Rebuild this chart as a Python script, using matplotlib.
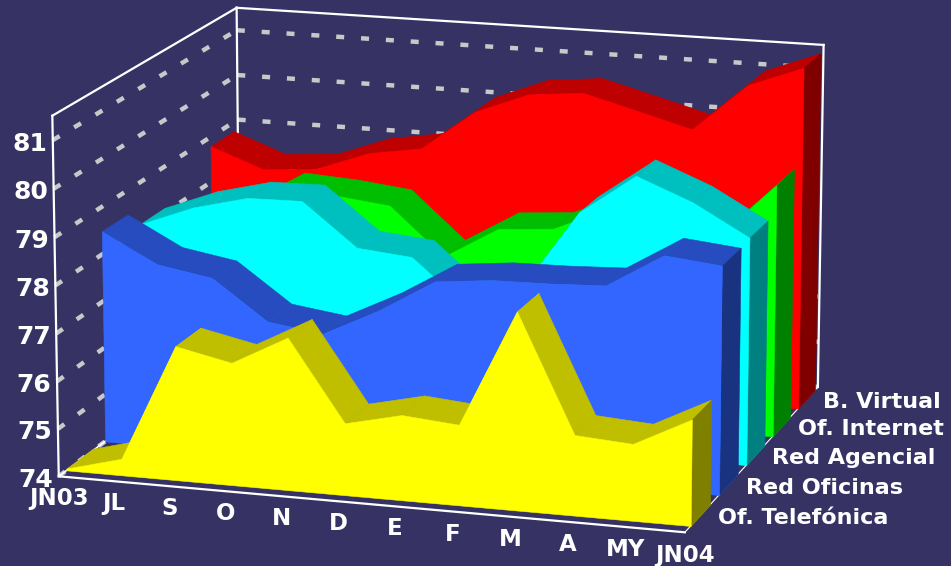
import matplotlib
matplotlib.use('Agg')
import matplotlib.pyplot as plt
from mpl_toolkits.mplot3d.art3d import Poly3DCollection

months = ['JN03', 'JL', 'S', 'O', 'N', 'D', 'E', 'F', 'M', 'A', 'MY', 'JN04']
series_names = ['Of. Telefónica', 'Red Oficinas', 'Red Agencial', 'Of. Internet', 'B. Virtual']
z_ticks = [74, 75, 76, 77, 78, 79, 80, 81]

telefonica = [74.04, 74.35, 76.81, 76.56, 77.18, 75.50, 75.77, 75.67, 78.09, 75.66, 75.58, 76.18]
oficinas = [78.49, 77.88, 77.68, 76.85, 76.69, 77.27, 77.97, 78.09, 78.11, 78.16, 78.87, 78.75]
agencial = [78.11, 78.56, 78.85, 78.87, 77.96, 77.85, 76.87, 77.40, 79.06, 79.91, 79.44, 78.79]
internet = [77.22, 77.86, 78.54, 78.47, 78.34, 77.32, 78.01, 78.10, 78.61, 78.77, 78.22, 79.37]
virtual = [78.80, 78.37, 78.46, 78.89, 79.08, 79.96, 80.42, 80.53, 80.22, 79.90, 80.93, 81.38]
all_series = [telefonica, oficinas, agencial, internet, virtual]

front_colors = ['#FFFF00', '#3366FF', '#00FFFF', '#00FF00', '#FF0000']
top_colors = ['#BFBF00', '#264CBF', '#00BFBF', '#00BF00', '#BF0000']
side_colors = ['#808000', '#1A3380', '#008080', '#008000', '#800000']

BG = '#363364'
Z_MIN, Z_MAX = 74, 81.5
W, H = 951, 566
S = 880.3  # size of the square 3d axes in pixels, fitted to the box corners

fig = plt.figure(figsize=(W / 100, H / 100), dpi=100, facecolor=BG)
ax = fig.add_axes([-3.11 / W, -142.28 / H, S / W, S / H], projection='3d')
ax.computed_zorder = False
ax.set_xlim(0, 11)
ax.set_ylim(0, 5)
ax.set_zlim(Z_MIN, Z_MAX)
ax.view_init(14.2066, -72.8281)
ax.set_proj_type('persp', focal_length=1.1785)
ax.set_box_aspect((1, 0.8482, 0.5711))
ax.set_axis_off()
ax.patch.set_visible(False)


def add_face(verts, color, zorder):
    poly = Poly3DCollection([verts], facecolors=color, edgecolors=color, linewidths=0.4)
    poly.set_zorder(zorder)
    ax.add_collection3d(poly, autolim=False)


# walls: dashed grid
for z in z_ticks:
    for xs, ys in [([0, 0], [0, 5]), ([0, 11], [5, 5])]:
        ax.plot(xs, ys, [z, z], color='#c8c8c8', lw=3.2, ls=(0, (1.8, 3.8)),
                dash_capstyle='butt', zorder=1)

# box frame
frame = [
    ([0, 0], [0, 0], [Z_MIN, Z_MAX], 1.6),
    ([0, 0], [0, 5], [Z_MAX, Z_MAX], 1.6),
    ([0, 11], [5, 5], [Z_MAX, Z_MAX], 1.6),
    ([0, 0], [5, 5], [Z_MIN, Z_MAX], 1.6),
    ([11, 11], [5, 5], [Z_MIN, Z_MAX], 1.6),
    ([0, 11], [0, 0], [Z_MIN, Z_MIN], 1.6),
    ([11, 11], [0, 5], [Z_MIN, Z_MIN], 0.8),
    ([0, 0], [0, 5], [Z_MIN, Z_MIN], 1.2),
]
for xs, ys, zs, lw in frame:
    ax.plot(xs, ys, zs, color='white', lw=lw, zorder=2)

# slabs, back to front
for s in range(4, -1, -1):
    vals = all_series[s]
    y0 = s + 0.2
    y1 = s + 0.88
    base = 10 + (4 - s) * 10
    for i in range(11):
        add_face([(i, y0, vals[i]), (i + 1, y0, vals[i + 1]),
                  (i + 1, y1, vals[i + 1]), (i, y1, vals[i])], top_colors[s], base + 1)
    add_face([(11, y0, Z_MIN), (11, y1, Z_MIN), (11, y1, vals[11]), (11, y0, vals[11])],
             side_colors[s], base + 2)
    outline = [(0, y0, Z_MIN)] + [(i, y0, vals[i]) for i in range(12)] + [(11, y0, Z_MIN)]
    add_face(outline, front_colors[s], base + 3)

# labels
for z in z_ticks:
    ax.text(-0.1, 0, z - 0.08, str(z), color='white', fontsize=18, fontweight='bold',
            ha='right', va='center', zorder=100)
for i, m in enumerate(months):
    ax.text(i, 0, Z_MIN - 0.47, m, color='white', fontsize=16.5, fontweight='bold',
            ha='center', va='center', zorder=100)
for s, name in enumerate(series_names):
    ax.text(11.32, s + 0.5, Z_MIN, name, color='white', fontsize=16, fontweight='bold',
            ha='left', va='center', zorder=100)

fig.savefig('out.png', dpi=100)
